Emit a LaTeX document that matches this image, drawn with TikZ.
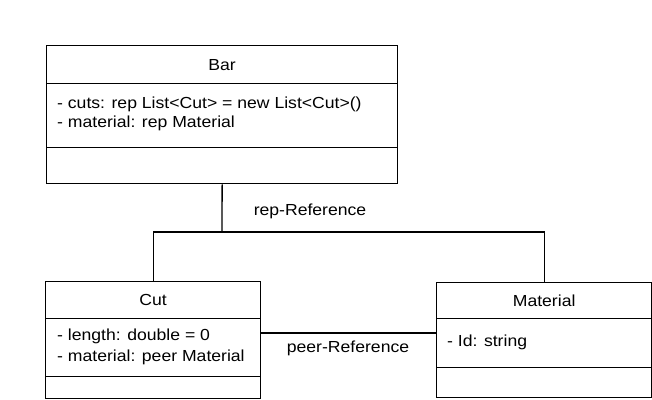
\documentclass[tikz,border=0pt]{standalone}
\usepackage{fontspec}
\newfontfamily\umlfont[FakeStretch=1.1]{Liberation Sans}
\begin{document}
\begin{tikzpicture}[x=1pt,y=-1pt,
  box/.style={draw, line width=1.3pt, rectangle, inner sep=0pt, anchor=north west},
  txt/.style={font=\umlfont\fontsize{16}{19}\selectfont, inner sep=0pt, text height=11.5pt, text depth=0pt},
  conn/.style={draw, line width=1.3pt}]
\useasboundingbox[fill=white] (0,0) rectangle (652,399);

% class Bar
\node[box, minimum width=351pt, minimum height=38pt] (barh) at (46,45) {};
\node[box, minimum width=351pt, minimum height=64pt] (bara) at (46,83) {};
\node[box, minimum width=351pt, minimum height=36pt] (barm) at (46,147) {};
\node[txt] (bart) at (barh.center) {Bar};
\node[txt, anchor=west] (bar1) at (57,103) {- cuts: rep List<Cut> = new List<Cut>()};
\node[txt, anchor=west] (bar2) at (57,122) {- material: rep Material};

% class Cut
\node[box, minimum width=215pt, minimum height=37pt] (cuth) at (45,281) {};
\node[box, minimum width=215pt, minimum height=58pt] (cuta) at (45,318) {};
\node[box, minimum width=215pt, minimum height=22pt] (cutm) at (45,376) {};
\node[txt] (cutt) at (cuth.center) {Cut};
\node[txt, anchor=west] (cut1) at (57,335) {- length: double = 0};
\node[txt, anchor=west] (cut2) at (57,356) {- material: peer Material};

% class Material
\node[box, minimum width=215pt, minimum height=36pt] (math) at (436,282) {};
\node[box, minimum width=215pt, minimum height=49pt] (mata) at (436,318) {};
\node[box, minimum width=215pt, minimum height=30pt] (matm) at (436,367) {};
\node[txt] (matt) at (math.center) {Material};
\node[txt, anchor=west] (mat1) at (447,341) {- Id: string};

% rep-Reference: Bar to Cut and Material
\coordinate (junc) at (222,232);
\draw[conn] (barm.south) -- (junc);
\draw[conn] (cuth.north) |- (junc) -| (math.north);
\node[txt] (replbl) at (310,210) {rep-Reference};

% peer-Reference: Cut to Material
\coordinate (peery) at (0,333);
\draw[conn] (cuta.east |- peery) -- (mata.west |- peery);
\node[txt] (peerlbl) at (348,347) {peer-Reference};
\end{tikzpicture}
\end{document}
